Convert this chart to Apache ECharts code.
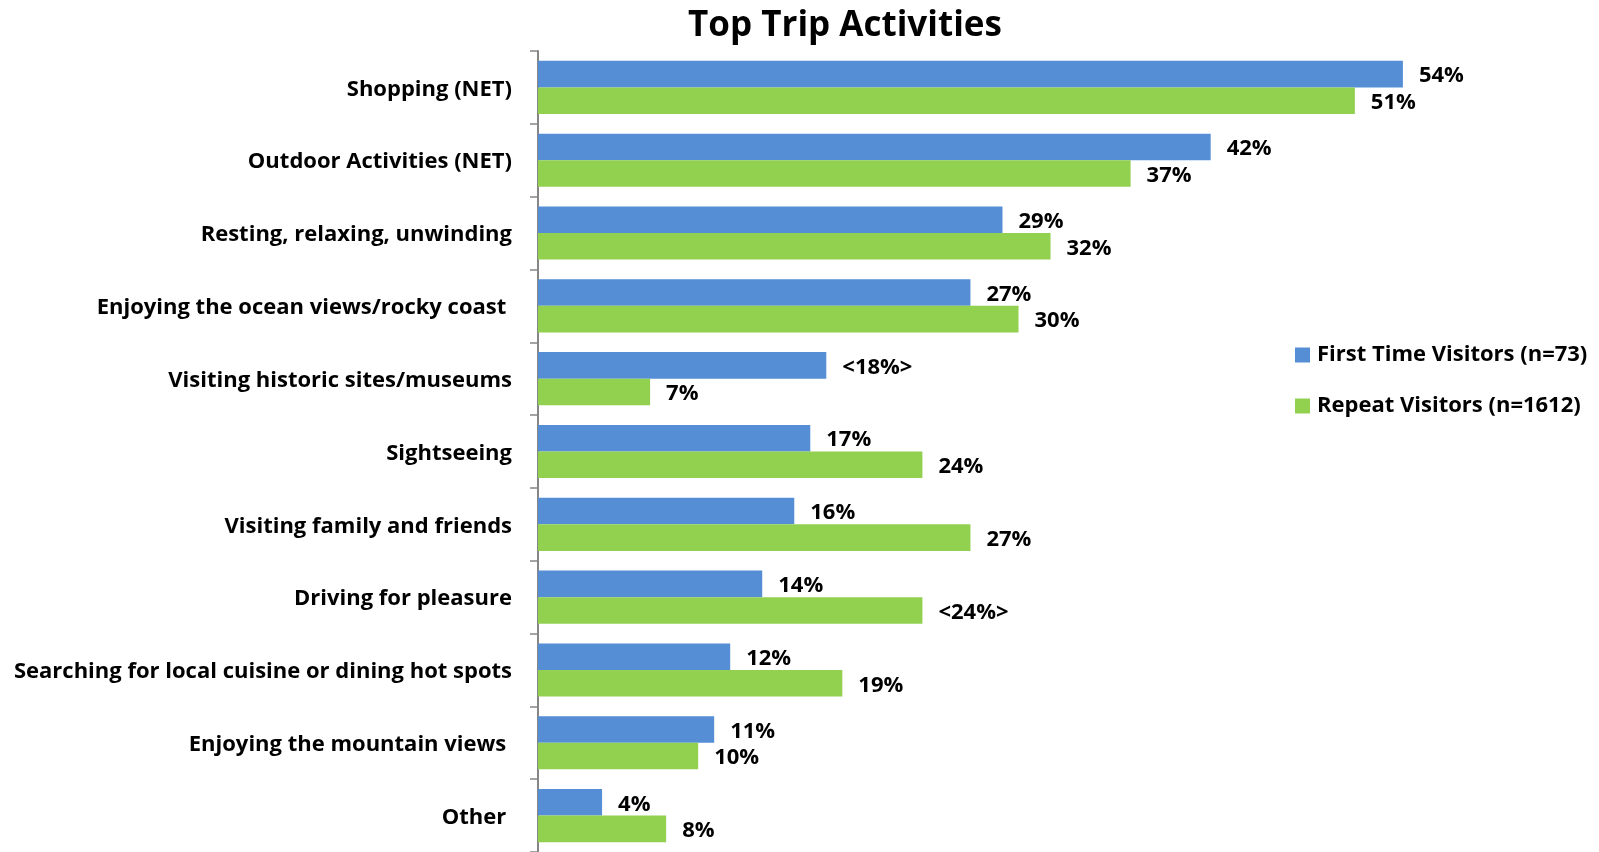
<!DOCTYPE html>
<html>
<head>
<meta charset="utf-8">
<script src="https://cdn.jsdelivr.net/npm/echarts@6/dist/echarts.min.js"></script>
<style>html,body{margin:0;padding:0;background:#fff}#c{width:1599px;height:852px}</style>
</head>
<body>
<div id="c"></div>
<script>
const categories = [
  'Shopping (NET)',
  'Outdoor Activities (NET)',
  'Resting, relaxing, unwinding',
  'Enjoying the ocean views/rocky coast ',
  'Visiting historic sites/museums',
  'Sightseeing',
  'Visiting family and friends',
  'Driving for pleasure',
  'Searching for local cuisine or dining hot spots',
  'Enjoying the mountain views ',
  'Other '
];
const firstTime = [54, 42, 29, 27, 18, 17, 16, 14, 12, 11, 4];
const repeat = [51, 37, 32, 30, 7, 24, 27, 24, 19, 10, 8];
// significance markers (shown as <x%>)
const firstFlag = [false, false, false, false, true, false, false, false, false, false, false];
const repeatFlag = [false, false, false, false, false, false, false, true, false, false, false];
const seriesNames = ['First Time Visitors (n=73)', 'Repeat Visitors (n=1612)'];

const FONT = 'Open Sans';
const chart = echarts.init(document.getElementById('c'));
function fmt(flags) {
  return function (p) {
    const t = p.value + '%';
    return flags[p.dataIndex] ? '<' + t + '>' : t;
  };
}
const txt = { fontFamily: FONT, fontWeight: 'bold', fontSize: 22, color: '#000' };
chart.setOption({
  animation: false,
  title: {
    text: 'Top Trip Activities',
    left: 840, textAlign: 'center', top: 4,
    textStyle: { fontFamily: FONT, fontWeight: 'bold', fontSize: 35, color: '#000' }
  },
  legend: {
    orient: 'vertical', left: 1290, top: 339,
    itemWidth: 15, itemHeight: 15, itemGap: 29,
    icon: 'rect',
    textStyle: Object.assign({}, txt, { padding: [3, 0, 0, 2] }),
    data: seriesNames
  },
  grid: { left: 538, top: 51, width: 961, height: 804, containLabel: false },
  xAxis: {
    type: 'value', min: 0, max: 60,
    show: false
  },
  yAxis: {
    type: 'category', data: categories, inverse: true,
    axisLine: { show: true, lineStyle: { color: '#868686', width: 2 } },
    axisTick: { show: true, length: 8, lineStyle: { color: '#868686', width: 1.5 } },
    axisLabel: {
      margin: 26,
      formatter: function (v) { return '{a|' + v + '}'; },
      rich: { a: Object.assign({}, txt, { padding: [4, 0, 0, 0] }) }
    },
    splitLine: { show: false }
  },
  series: [
    {
      name: seriesNames[0], type: 'bar', data: firstTime,
      barGap: '0%', barCategoryGap: '27%',
      itemStyle: { color: '#558ED5' },
      label: Object.assign({ show: true, position: 'right', distance: 16, offset: [0, 2], formatter: fmt(firstFlag) }, txt)
    },
    {
      name: seriesNames[1], type: 'bar', data: repeat,
      barGap: '0%', barCategoryGap: '27%',
      itemStyle: { color: '#92D050' },
      label: Object.assign({ show: true, position: 'right', distance: 16, offset: [0, 2], formatter: fmt(repeatFlag) }, txt)
    }
  ]
});
</script>
</body>
</html>
